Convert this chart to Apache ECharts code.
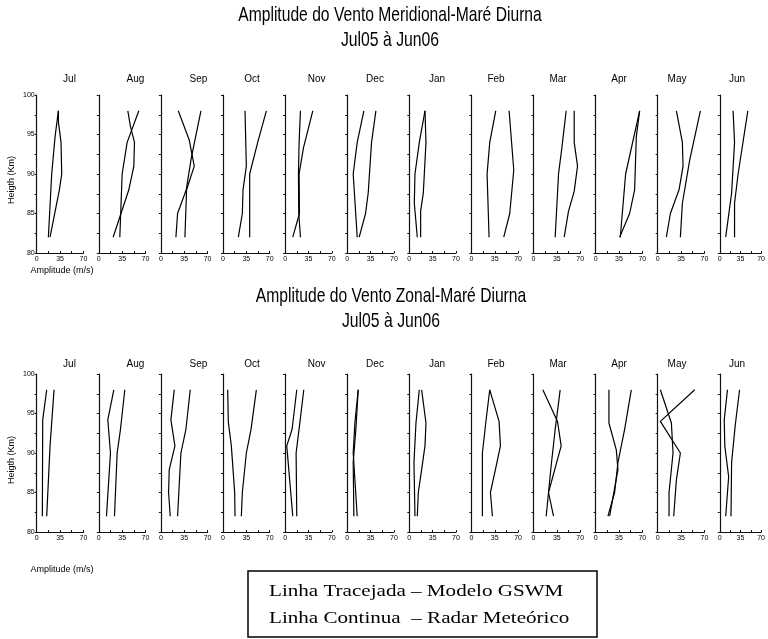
<!DOCTYPE html>
<html>
<head>
<meta charset="utf-8">
<script src="https://cdn.jsdelivr.net/npm/echarts@6/dist/echarts.min.js"></script>
<style>html,body{margin:0;padding:0;background:#fff;}#c{width:768px;height:639px;}</style>
</head>
<body>
<div id="c"></div>
<script>
// ---------------- DATA ----------------
const months = ['Jul','Aug','Sep','Oct','Nov','Dec','Jan','Feb','Mar','Apr','May','Jun'];
const xTickLabels = [0, 35, 70];
const yTickLabels = [80, 85, 90, 95, 100];

// Meridional tide amplitude, [amplitude m/s, height km]
const merLineA = [
  [[17.5,82],[22.5,90],[27.5,94.7],[32.5,98]],
  [[31.5,82],[35,90],[42.5,94],[60,98]],
  [[36,82],[38.5,88],[50,91],[42.5,94.3],[26,98]],
  [[40,82],[40,90],[52,94],[65,98]],
  [[11.5,82],[21.5,85],[21,90],[27.5,93.3],[41.5,98]],
  [[15,82],[9,90],[15,94],[25,98]],
  [[12,82],[7.5,86.3],[8.5,90],[15,94],[23.5,98]],
  [[26.5,82],[23.5,90],[27.5,94],[36.5,98]],
  [[32.5,82],[37.5,90],[42.5,93.3],[49,98]],
  [[37,82],[45,90],[66,98]],
  [[13,82],[19,85],[32,88],[38,91],[37,94],[28,98]],
  [[10,82],[20,87.6],[25,94],[22.5,98]]
];
const merLineB = [
  [[20,82],[34,88],[37.5,90],[36.5,94],[32.5,96.6],[32.5,98]],
  [[21.5,82],[45,88],[52.5,91],[53.5,94],[47.5,96],[43.5,98]],
  [[22.5,82],[25,85],[38,88],[45.5,92],[60,98]],
  [[23,82],[29,85],[30,88],[35,91],[33,98]],
  [[23,82],[20.5,85],[20,90],[21,94],[23,98]],
  [[18,82],[27.5,85],[31.5,87.6],[36.5,94],[43,98]],
  [[17,82],[17,85.3],[21,87.6],[25,94],[23.5,98]],
  [[48.5,82],[57.5,85],[63.5,90.5],[56.5,98]],
  [[46,82],[52.5,85.3],[61,87.8],[66,91],[61,94],[61,98]],
  [[36,82],[51,85],[58.5,88],[61,94.7],[66,98]],
  [[34,82],[37,86.3],[48,91.8],[64,98]],
  [[25,82],[25,86.3],[31,90],[47.5,98]]
];
// Zonal tide amplitude, [amplitude m/s, height km]
const zonLineA = [
  [[8.5,82],[9,94.2],[15,98]],
  [[11.5,82],[17.5,90],[13.5,94.2],[22.5,98]],
  [[14,82],[11.5,85],[12.5,87.9],[21,90.9],[15,94.2],[20,98]],
  [[18,82],[17.5,85],[12.5,90.9],[8,93.9],[7,98]],
  [[11.5,82],[2.5,90.9],[10.5,93],[17.5,98]],
  [[15,82],[9,90],[11.5,93.8],[16.5,98]],
  [[8.5,82],[7,88.8],[10,93.8],[15,98]],
  [[16.5,82],[16.5,90],[21.5,93.8],[27.5,98]],
  [[30,82],[22.5,85],[41.5,90.9],[36,94],[14,98]],
  [[21,82],[33.5,87.9],[31,90.4],[20,93.8],[20,98]],
  [[17,82],[17,85],[23,90],[20.5,93.8],[4,98]],
  [[10,82],[15,87],[8.5,90.9],[7.5,94.2],[13,98]]
];
const zonLineB = [
  [[15,82],[20,90.9],[26,98]],
  [[23.5,82],[27.5,90],[32.5,93],[39,98]],
  [[25,82],[30,90],[37.5,93],[44,98]],
  [[27.5,82],[29,85],[35,90],[42,93],[50,98]],
  [[17.5,82],[16.5,90],[21.5,93.4],[28,98]],
  [[10,82],[9,88.8],[13,93],[16.5,98]],
  [[12,82],[13.5,85],[18.5,87.9],[23.5,90.9],[25,93.8],[18.5,98]],
  [[31.5,82],[28.5,85],[36,87.9],[43.5,90.9],[41.5,94],[27.5,98]],
  [[19,82],[26,88],[32.5,93],[40,98]],
  [[18.5,82],[28.5,85],[33.5,88.8],[43.5,93],[53.5,98]],
  [[24,82],[28,86.6],[34,90],[4,94],[55.5,98]],
  [[19,82],[20,88.8],[26,93.4],[33.5,98]]
];

// ---------------- LAYOUT ----------------
const SANS = '"Liberation Sans", Arial, sans-serif';
const NARROW = '"Liberation Sans Narrow", "Liberation Sans", Arial, sans-serif';
const SERIF = '"Liberation Serif", "Times New Roman", serif';
const rowTop = [95, 374];
const gridH = 158;
const gridW = 46.7;
const gridLeft0 = 36.7, gridStep = 62.1;
const monthLabelX = [69.5, 135.5, 198.5, 252, 316.7, 375, 437, 496, 558, 619, 677, 737];
const monthLabelY = [79.5, 364];

const grids = [], xAxes = [], yAxes = [], series = [];
const rows = [[merLineA, merLineB], [zonLineA, zonLineB]];
rows.forEach((pair, r) => {
  months.forEach((m, i) => {
    const gi = grids.length;
    grids.push({left: gridLeft0 + gridStep * i, top: rowTop[r], width: gridW, height: gridH, containLabel: false});
    xAxes.push({
      gridIndex: gi, type: 'value', min: 0, max: 70, interval: 17.5,
      axisLine: {show: true, onZero: false, lineStyle: {color: '#111', width: 1.2}},
      axisTick: {show: true, inside: true, length: 2, lineStyle: {color: '#111', width: 1}},
      axisLabel: {show: true, margin: 3, fontSize: 7, fontFamily: NARROW, color: '#000',
        formatter: v => (xTickLabels.indexOf(v) >= 0 ? String(v) : '')},
      splitLine: {show: false}
    });
    yAxes.push({
      gridIndex: gi, type: 'value', min: 80, max: 100, interval: 2.5,
      axisLine: {show: true, onZero: false, lineStyle: {color: '#111', width: 1.2}},
      axisTick: {show: true, inside: false, length: 2, lineStyle: {color: '#111', width: 1}},
      axisLabel: {show: i === 0, margin: 2, fontSize: 7, fontFamily: NARROW, color: '#000',
        formatter: v => (yTickLabels.indexOf(v) >= 0 ? String(v) : '')},
      splitLine: {show: false}
    });
    pair.forEach(arr => {
      series.push({
        type: 'line', xAxisIndex: gi, yAxisIndex: gi, data: arr[i],
        symbol: 'none', silent: true, animation: false,
        lineStyle: {color: '#000', width: 1.2}
      });
    });
  });
});

const graphics = [];
function txt(text, x, y, opts) {
  opts = opts || {};
  graphics.push({
    type: 'text', x: x, y: y, rotation: opts.rotation || 0,
    scaleX: opts.scaleX || 1, scaleY: 1, silent: true,
    style: {text: text, fontSize: opts.size || 10, fontFamily: opts.family || SANS, fill: '#000',
      textAlign: opts.align || 'center', textVerticalAlign: 'middle',
      align: opts.align || 'center', verticalAlign: 'middle'}
  });
}
// titles
txt('Amplitude do Vento Meridional-Maré Diurna', 390, 15, {size: 21, scaleX: 0.745});
txt('Jul05 à Jun06', 390, 40, {size: 21, scaleX: 0.75});
txt('Amplitude do Vento Zonal-Maré Diurna', 391, 296, {size: 21, scaleX: 0.745});
txt('Jul05 à Jun06', 391, 321, {size: 21, scaleX: 0.75});
// month labels
[0, 1].forEach(r => months.forEach((m, i) => txt(m, monthLabelX[i], monthLabelY[r], {size: 10})));
// axis names
txt('Heigth (Km)', 12, 180, {size: 9, rotation: Math.PI / 2});
txt('Heigth (Km)', 12, 460, {size: 9, rotation: Math.PI / 2});
txt('Amplitude (m/s)', 62, 271, {size: 9});
txt('Amplitude (m/s)', 62, 570, {size: 9});
// legend box
graphics.push({type: 'rect', silent: true, shape: {x: 248, y: 571, width: 349, height: 66},
  style: {fill: '#fff', stroke: '#000', lineWidth: 1.5}});
txt('Linha Tracejada – Modelo GSWM', 269, 592, {size: 17, family: SERIF, align: 'left', scaleX: 1.24});
txt('Linha Continua  – Radar Meteórico', 269, 619, {size: 17, family: SERIF, align: 'left', scaleX: 1.24});

const chart = echarts.init(document.getElementById('c'), null, {renderer: 'canvas'});
chart.setOption({
  backgroundColor: '#fff',
  animation: false,
  grid: grids, xAxis: xAxes, yAxis: yAxes, series: series,
  graphic: {elements: graphics}
});
</script>
</body>
</html>
